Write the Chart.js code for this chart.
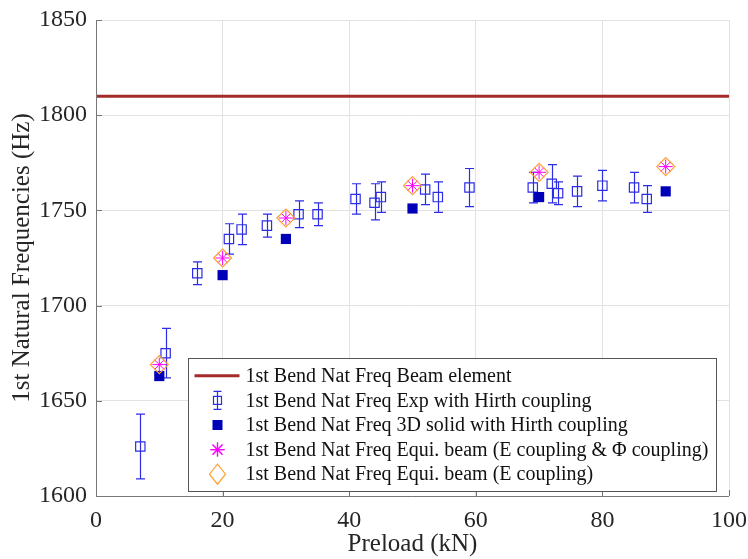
<!DOCTYPE html>
<html>
<head>
<meta charset="utf-8">
<script src="https://cdn.jsdelivr.net/npm/chart.js@4.4.1/dist/chart.umd.min.js"></script>
<style>
  html, body { margin: 0; padding: 0; background: #fff; }
  canvas { display: block; }
</style>
</head>
<body>
<canvas id="freq-chart" width="748" height="559"></canvas>
<script>
// preload values (kN) and measured / computed frequencies (Hz)
const beamX = [0, 100];
const beamY = [1810, 1810];

const expX = [7, 11, 16, 21, 23, 27, 32, 35, 41, 44, 45, 52, 54, 59, 69, 72, 73, 76, 80, 85, 87];
const expY = [1626, 1675, 1717, 1735, 1740, 1742, 1748, 1748, 1756, 1754, 1757, 1761, 1757, 1762, 1762, 1764, 1759, 1760, 1763, 1762, 1756];
const expLow = [1609, 1662, 1711, 1727, 1732, 1736, 1741, 1742, 1748, 1745, 1749, 1753, 1749, 1752, 1754, 1754, 1753, 1752, 1755, 1754, 1749];
const expHigh = [1643, 1688, 1723, 1743, 1748, 1748, 1755, 1754, 1764, 1764, 1765, 1769, 1765, 1772, 1770, 1774, 1765, 1768, 1771, 1770, 1763];

const solidX = [10, 20, 30, 50, 70, 90];
const solidY = [1663, 1716, 1735, 1751, 1757, 1760];

const equiX = [10, 20, 30, 50, 70, 90];
const equiBothY = [1669, 1725, 1746, 1763, 1770, 1773];
const equiEY = [1669, 1725, 1746, 1763, 1770, 1773];

const xTicks = [0, 20, 40, 60, 80, 100];
const yTicks = [1600, 1650, 1700, 1750, 1800, 1850];

const labels = [
  "1st Bend Nat Freq Beam element",
  "1st Bend Nat Freq Exp with Hirth coupling",
  "1st Bend Nat Freq 3D solid with Hirth coupling",
  "1st Bend Nat Freq Equi. beam (E coupling & \u03A6 coupling)",
  "1st Bend Nat Freq Equi. beam (E coupling)"
];

const SERIF = '"Liberation Serif", "Times New Roman", serif';
const RED = "rgb(165, 42, 42)";
const EXP_BLUE = "rgb(45, 45, 230)";
const SOLID_BLUE = "rgb(0, 0, 185)";
const MAGENTA = "rgb(255, 0, 255)";
const ORANGE = "rgb(255, 160, 50)";
const AXIS = "#777";
const GRID = "rgb(226, 226, 226)";

const toPts = (xs, ys) => xs.map((x, i) => ({ x: x, y: ys[i] }));

// error bars for the experimental points
const errorBars = {
  id: "errorBars",
  afterDatasetDraw(chart, args) {
    if (args.index !== 1) return;
    const { ctx, scales: { x, y } } = chart;
    ctx.save();
    ctx.strokeStyle = EXP_BLUE;
    ctx.lineWidth = 1.2;
    expX.forEach((v, i) => {
      const px = Math.round(x.getPixelForValue(v)) + 0.5;
      const top = y.getPixelForValue(expHigh[i]);
      const bot = y.getPixelForValue(expLow[i]);
      ctx.beginPath();
      ctx.moveTo(px, top);
      ctx.lineTo(px, bot);
      ctx.moveTo(px - 4.5, top);
      ctx.lineTo(px + 4.5, top);
      ctx.moveTo(px - 4.5, bot);
      ctx.lineTo(px + 4.5, bot);
      ctx.stroke();
    });
    ctx.restore();
  }
};

// left and bottom axis lines with inward ticks
const axisFrame = {
  id: "axisFrame",
  afterDraw(chart) {
    const { ctx, chartArea: a, scales: { x, y } } = chart;
    ctx.save();
    ctx.strokeStyle = AXIS;
    ctx.lineWidth = 1;
    ctx.beginPath();
    ctx.moveTo(Math.round(a.left) + 0.5, a.top);
    ctx.lineTo(Math.round(a.left) + 0.5, Math.round(a.bottom) + 0.5);
    ctx.lineTo(a.right, Math.round(a.bottom) + 0.5);
    yTicks.forEach(t => {
      const py = Math.round(y.getPixelForValue(t)) + 0.5;
      ctx.moveTo(a.left, py);
      ctx.lineTo(a.left + 6, py);
    });
    xTicks.forEach(t => {
      const px = Math.round(x.getPixelForValue(t)) + 0.5;
      ctx.moveTo(px, a.bottom);
      ctx.lineTo(px, a.bottom - 6);
    });
    ctx.stroke();
    ctx.restore();
  }
};

// boxed legend inside the plot area
const boxLegend = {
  id: "boxLegend",
  afterDraw(chart) {
    const ctx = chart.ctx;
    const left = 188.5, top = 358.5, rowH = 24.6;
    const textX = left + 57;
    ctx.save();
    ctx.font = "20px " + SERIF;
    const textW = Math.max(...labels.map(l => ctx.measureText(l).width));
    const boxW = Math.round(textX - left + textW + 8);
    const boxH = Math.round(rowH * labels.length + 10);
    ctx.fillStyle = "#fff";
    ctx.fillRect(left, top, boxW, boxH);
    ctx.strokeStyle = "#555";
    ctx.lineWidth = 1;
    ctx.strokeRect(left, top, boxW, boxH);

    const mx = left + 29;
    labels.forEach((label, i) => {
      const cy = top + 5 + rowH * (i + 0.5);
      if (i === 0) {
        ctx.strokeStyle = RED;
        ctx.lineWidth = 3;
        ctx.beginPath();
        ctx.moveTo(left + 6, cy);
        ctx.lineTo(left + 51, cy);
        ctx.stroke();
      } else if (i === 1) {
        ctx.strokeStyle = EXP_BLUE;
        ctx.lineWidth = 1.2;
        ctx.beginPath();
        ctx.moveTo(mx, cy - 9);
        ctx.lineTo(mx, cy + 9);
        ctx.moveTo(mx - 4, cy - 9);
        ctx.lineTo(mx + 4, cy - 9);
        ctx.moveTo(mx - 4, cy + 9);
        ctx.lineTo(mx + 4, cy + 9);
        ctx.stroke();
        ctx.strokeRect(mx - 4, cy - 4, 8, 8);
      } else if (i === 2) {
        ctx.fillStyle = SOLID_BLUE;
        ctx.fillRect(mx - 5, cy - 5, 10, 10);
      } else if (i === 3) {
        ctx.strokeStyle = MAGENTA;
        ctx.lineWidth = 1.2;
        Chart.helpers.drawPoint(ctx, { pointStyle: "star", radius: 7, rotation: 0, borderWidth: 1.2 }, mx, cy);
        ctx.stroke();
      } else {
        ctx.strokeStyle = ORANGE;
        ctx.lineWidth = 1.2;
        ctx.beginPath();
        ctx.moveTo(mx, cy - 10);
        ctx.lineTo(mx + 8, cy);
        ctx.lineTo(mx, cy + 10);
        ctx.lineTo(mx - 8, cy);
        ctx.closePath();
        ctx.stroke();
      }
      ctx.fillStyle = "#111";
      ctx.textBaseline = "middle";
      ctx.textAlign = "left";
      ctx.fillText(label, textX, cy + 1);
    });
    ctx.restore();
  }
};

new Chart(document.querySelector("#freq-chart").getContext("2d"), {
  type: "scatter",
  data: {
    datasets: [
      {
        label: labels[0],
        type: "line",
        data: toPts(beamX, beamY),
        borderColor: RED,
        borderWidth: 3,
        pointRadius: 0,
        order: 5
      },
      {
        label: labels[1],
        data: toPts(expX, expY),
        pointStyle: "rect",
        pointRadius: 6.6,
        borderColor: EXP_BLUE,
        backgroundColor: "rgba(0,0,0,0)",
        borderWidth: 1.2,
        order: 4
      },
      {
        label: labels[2],
        data: toPts(solidX, solidY),
        pointStyle: "rect",
        pointRadius: 7.2,
        borderColor: SOLID_BLUE,
        backgroundColor: SOLID_BLUE,
        borderWidth: 0,
        order: 3
      },
      {
        label: labels[3],
        data: toPts(equiX, equiBothY),
        pointStyle: "star",
        pointRadius: 7,
        borderColor: MAGENTA,
        backgroundColor: MAGENTA,
        borderWidth: 1,
        order: 2
      },
      {
        label: labels[4],
        data: toPts(equiX, equiEY),
        pointStyle: "rectRot",
        pointRadius: 9,
        borderColor: ORANGE,
        backgroundColor: "rgba(0,0,0,0)",
        borderWidth: 1.2,
        order: 1
      }
    ]
  },
  options: {
    responsive: false,
    animation: false,
    devicePixelRatio: 1,
    layout: { padding: { top: 20, right: 19, left: 0, bottom: 0 } },
    plugins: {
      legend: { display: false },
      tooltip: { enabled: false }
    },
    scales: {
      x: {
        type: "linear",
        min: 0,
        max: 100,
        afterBuildTicks: s => { s.ticks = xTicks.map(v => ({ value: v })); },
        afterFit: s => {
          s.height = 63;
          s.paddingLeft = 0;
          s.paddingRight = 0;
        },
        grid: { color: GRID, drawTicks: false },
        border: { display: false },
        ticks: {
          color: "#262626",
          padding: 10,
          font: { family: SERIF, size: 24 },
          maxRotation: 0,
          callback: v => String(v)
        },
        title: {
          display: true,
          text: "Preload (kN)",
          color: "#262626",
          font: { family: SERIF, size: 25 },
          padding: { top: 0, bottom: 0 }
        }
      },
      y: {
        min: 1600,
        max: 1850,
        afterBuildTicks: s => { s.ticks = yTicks.map(v => ({ value: v })); },
        afterFit: s => {
          s.width = 96;
          s.paddingTop = 0;
          s.paddingBottom = 0;
        },
        grid: { color: GRID, drawTicks: false },
        border: { display: false },
        ticks: {
          color: "#262626",
          padding: 9,
          font: { family: SERIF, size: 24 },
          callback: v => String(v)
        },
        title: {
          display: true,
          text: "1st Natural Frequencies (Hz)",
          color: "#262626",
          font: { family: SERIF, size: 25 },
          padding: { top: 7, bottom: 0 }
        }
      }
    }
  },
  plugins: [errorBars, axisFrame, boxLegend]
});
</script>
</body>
</html>
